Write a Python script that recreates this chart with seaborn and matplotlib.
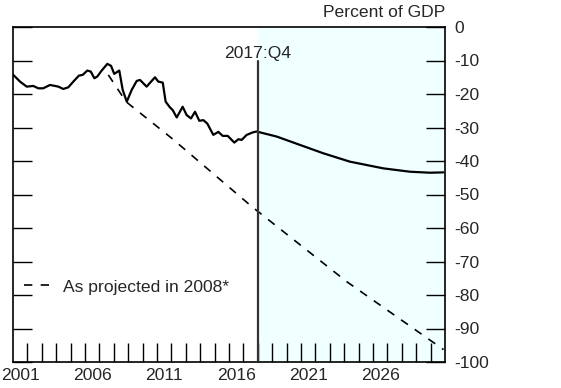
import matplotlib
matplotlib.use("Agg")
import matplotlib.pyplot as plt
import seaborn as sns
import pandas as pd

# ---- data ----
actual_years = [2001.02, 2001.49, 2001.95, 2002.41, 2002.76, 2003.10, 2003.57, 2004.15,
                2004.49, 2004.84, 2005.19, 2005.58, 2005.84, 2006.16, 2006.40, 2006.65,
                2006.85, 2007.16, 2007.55, 2007.81, 2008.03, 2008.38, 2008.62, 2008.90,
                2009.24, 2009.59, 2009.82, 2010.28, 2010.86, 2011.09, 2011.40, 2011.60,
                2011.90, 2012.09, 2012.37, 2012.78, 2013.06, 2013.36, 2013.64, 2013.94,
                2014.22, 2014.49, 2014.91, 2015.26, 2015.56, 2015.91, 2016.37, 2016.65,
                2016.88, 2017.23, 2017.69, 2017.92, 2019.31, 2020.93, 2022.55, 2024.40,
                2026.72, 2028.57, 2029.96, 2030.88]
actual_values = [-14.3, -16.3, -17.8, -17.6, -18.3, -18.3, -17.3, -17.8,
                 -18.5, -18.0, -16.3, -14.5, -14.3, -13.0, -13.3, -15.3,
                 -14.8, -13.0, -11.0, -11.6, -14.0, -13.0, -18.8, -22.3,
                 -18.8, -16.1, -15.8, -17.8, -15.0, -16.3, -16.6, -22.3,
                 -24.0, -24.8, -27.0, -23.8, -26.3, -27.3, -25.3, -28.0,
                 -27.8, -28.8, -32.2, -31.3, -32.5, -32.5, -34.5, -33.5,
                 -33.7, -32.2, -31.4, -31.2, -32.7, -35.2, -37.7, -40.2,
                 -42.2, -43.2, -43.5, -43.4]

proj2008_years = [2007.62, 2008.85, 2012.02, 2017.58, 2024.17, 2030.90]
proj2008_values = [-14.3, -22.3, -33.2, -53.6, -76.0, -96.3]

y_ticks = [0, -10, -20, -30, -40, -50, -60, -70, -80, -90, -100]
x_label_years = [2001, 2006, 2011, 2016, 2021, 2026]
x_minor_years = list(range(2002, 2031))
marker_year = 2018.0
marker_label = "2017:Q4"
legend_label = "As projected in 2008*"
unit_label = "Percent of GDP"

FS = 12.6

# ---- style ----
sns.set_style("white")
plt.rcParams["font.family"] = ["Liberation Sans", "DejaVu Sans"]
plt.rcParams["axes.unicode_minus"] = False

fig = plt.figure(figsize=(5.61, 3.88), dpi=100)
ax = fig.add_axes([13 / 561, 1 - 362 / 388, 432 / 561, 335 / 388])

ax.axvspan(marker_year, 2031, color="#F0FFFF", zorder=0, lw=0)

df_act = pd.DataFrame({"year": actual_years, "value": actual_values})
df_proj = pd.DataFrame({"year": proj2008_years, "value": proj2008_values})

sns.lineplot(data=df_act, x="year", y="value", ax=ax, color="black", lw=1.6,
             sort=False, estimator=None, zorder=3)
sns.lineplot(data=df_proj, x="year", y="value", ax=ax, color="black", lw=1.2,
             sort=False, estimator=None, zorder=3, label=legend_label)
ax.lines[-1].set_dashes((5, 5))

ax.axvline(marker_year, ymin=0, ymax=(362 - 61) / 335, color="#333333", lw=1.6, zorder=4)
ax.text(marker_year, 0.906, marker_label, transform=ax.get_xaxis_transform(),
        ha="center", va="baseline", fontsize=FS)
ax.text(1.0, 1.03, unit_label, transform=ax.transAxes, ha="right",
        va="baseline", fontsize=FS)

ax.set_xlim(2001, 2031)
ax.set_ylim(-100, 0)
ax.set_xlabel("")
ax.set_ylabel("")

# x ticks: boundary ticks (inward), labels centred in year intervals
ax.set_xticks(x_minor_years)
ax.set_xticklabels([])
ax.set_xticks([y + 0.5 for y in x_label_years], minor=True)
ax.set_xticklabels([str(y) for y in x_label_years], minor=True, fontsize=FS)
ax.tick_params(axis="x", which="major", direction="in", length=14, width=1.0,
               bottom=True, top=False, color="black")
ax.tick_params(axis="x", which="minor", length=0, pad=4, bottom=True, top=False)

ax.set_yticks(y_ticks)
ax.set_yticklabels([str(v) for v in y_ticks], fontsize=FS)
ax.tick_params(axis="y", which="major", direction="in", length=14, width=1.0,
               left=True, right=True, labelleft=False, labelright=True, pad=7,
               color="black")

for s in ax.spines.values():
    s.set_visible(True)
    s.set_color("black")
    s.set_linewidth(1.2)

leg = ax.legend(loc="center left", bbox_to_anchor=(0.025, 0.224), frameon=False,
                fontsize=FS, handlelength=1.5, handletextpad=0.75,
                borderpad=0, borderaxespad=0)

fig.savefig("out.png", dpi=100)
